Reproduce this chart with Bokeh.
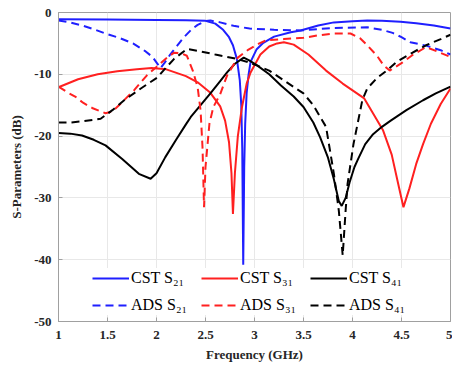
from bokeh.plotting import figure
from bokeh.models import Legend, LegendItem, FixedTicker, Range1d
from bokeh.embed import file_html
from bokeh.resources import INLINE

# ---------------- data ----------------
cst_s21_f = [1.0, 1.5, 2.0, 2.3, 2.5, 2.6, 2.68, 2.74, 2.78, 2.82, 2.85, 2.865, 2.875, 2.885,
             2.895, 2.905, 2.92, 2.94, 2.96, 3.02, 3.09, 3.2, 3.37, 3.47, 3.65, 3.81, 4.0,
             4.15, 4.3, 4.49, 4.65, 4.83, 5.0]
cst_s21_db = [-1.1, -1.15, -1.2, -1.25, -1.35, -1.8, -2.8, -4.0, -5.3, -7.5, -11.0, -15.0, -22.0, -40.8,
              -25.0, -18.0, -13.0, -10.0, -8.0, -6.0, -4.9, -3.9, -3.2, -2.9, -2.1, -1.6, -1.4,
              -1.3, -1.35, -1.5, -1.75, -2.1, -2.6]

cst_s31_f = [1.0, 1.2, 1.4, 1.6, 1.8, 1.95, 2.1, 2.3, 2.42, 2.55, 2.65, 2.7, 2.74, 2.765, 2.78,
             2.8, 2.83, 2.87, 2.92, 2.96, 3.06, 3.15, 3.23, 3.3, 3.4, 3.55, 3.73, 3.9, 4.12,
             4.31, 4.4, 4.47, 4.52, 4.58, 4.65, 4.72, 4.8, 4.9, 5.0]
cst_s31_db = [-12.1, -10.8, -10.0, -9.5, -9.2, -9.0, -9.2, -10.3, -11.3, -13.0, -15.2, -17.5, -21.0, -26.0, -32.6,
              -26.0, -20.0, -15.5, -11.5, -9.7, -6.8, -5.5, -5.0, -4.8, -5.2, -6.8, -9.4, -11.5, -13.9,
              -19.0, -23.0, -28.0, -31.5, -28.5, -24.5, -21.3, -18.0, -14.8, -12.3]

cst_s41_f = [1.0, 1.12, 1.24, 1.36, 1.48, 1.65, 1.82, 1.94, 2.0, 2.09, 2.2, 2.3, 2.35, 2.45, 2.55,
             2.65, 2.72, 2.8, 2.89, 2.95, 3.03, 3.15, 3.27, 3.4, 3.5, 3.6, 3.67, 3.75, 3.81,
             3.86, 3.89, 3.93, 3.97, 4.02, 4.06, 4.13, 4.21, 4.3, 4.39, 4.55, 4.72, 4.85, 5.0]
cst_s41_db = [-19.5, -19.6, -19.9, -20.6, -21.5, -23.7, -26.1, -26.9, -26.0, -23.4, -20.6, -18.1, -16.9, -15.0, -13.1,
              -11.1, -9.7, -8.3, -7.3, -7.8, -8.6, -10.0, -11.8, -13.6, -15.3, -17.8, -20.2, -23.5, -27.0,
              -30.5, -31.3, -30.0, -27.5, -25.0, -23.6, -21.3, -19.7, -18.5, -17.5, -15.8, -14.2, -13.1, -12.0]

ads_s21_f = [1.0, 1.12, 1.24, 1.36, 1.48, 1.62, 1.76, 1.88, 1.96, 2.01, 2.04, 2.08, 2.14, 2.2,
             2.28, 2.36, 2.42, 2.5, 2.55, 2.65, 2.8, 2.95, 3.2, 3.47, 3.81, 4.15, 4.3, 4.41,
             4.5, 4.59, 4.76, 4.9, 5.0]
ads_s21_db = [-1.3, -1.6, -2.1, -2.7, -3.4, -4.1, -5.0, -6.2, -7.2, -8.3, -9.0, -8.2, -6.8, -5.6,
              -4.0, -2.7, -2.0, -1.4, -1.3, -1.6, -2.2, -2.6, -2.8, -2.9, -2.5, -2.4, -2.8, -3.3,
              -4.0, -4.8, -5.4, -6.1, -6.8]

ads_s31_f = [1.0, 1.1, 1.17, 1.25, 1.35, 1.48, 1.55, 1.65, 1.77, 1.9, 2.0, 2.1, 2.18, 2.25, 2.31,
             2.37, 2.42, 2.45, 2.47, 2.485, 2.5, 2.54, 2.58, 2.65, 2.72, 2.83, 2.93, 3.05, 3.12,
             3.3, 3.5, 3.65, 3.81, 3.98, 4.08, 4.15, 4.25, 4.32, 4.38, 4.5, 4.62, 4.75, 4.88, 5.0]
ads_s31_db = [-12.0, -13.0, -13.6, -14.6, -15.5, -16.3, -16.0, -14.5, -12.6, -10.2, -8.8, -7.4, -6.5, -6.6, -7.0,
              -9.4, -12.1, -15.9, -22.0, -31.5, -25.0, -18.0, -15.3, -13.2, -10.2, -7.3, -6.1, -5.0, -4.5,
              -4.3, -4.1, -3.7, -3.4, -3.4, -4.2, -5.3, -7.0, -8.6, -9.4, -8.2, -6.8, -5.6, -6.4, -7.2]

ads_s41_f = [1.0, 1.12, 1.25, 1.43, 1.55, 1.67, 1.84, 2.01, 2.07, 2.18, 2.31, 2.45, 2.6, 2.79, 2.93,
             3.03, 3.15, 3.3, 3.5, 3.6, 3.73, 3.81, 3.86, 3.9, 3.93, 3.95, 4.01, 4.1, 4.15,
             4.25, 4.35, 4.45, 4.6, 4.75, 4.9, 5.0]
ads_s41_db = [-17.8, -17.8, -17.6, -17.2, -15.8, -14.2, -12.3, -10.5, -9.4, -7.5, -5.9, -6.3, -6.8, -7.4, -8.0,
              -8.6, -9.4, -11.0, -13.1, -15.0, -18.5, -26.1, -32.0, -39.3, -32.0, -27.7, -21.3, -14.2, -12.3,
              -10.6, -9.4, -8.0, -6.6, -5.3, -4.3, -3.6]

x_ticks = [1, 1.5, 2, 2.5, 3, 3.5, 4, 4.5, 5]
x_tick_labels = ["1", "1.5", "2", "2.5", "3", "3.5", "4", "4.5", "5"]
y_ticks = [0, -10, -20, -30, -40, -50]
y_tick_labels = ["0", "-10", "-20", "-30", "-40", "-50"]

legend_labels = ["CST S\u2082\u2081", "CST S\u2083\u2081", "CST S\u2084\u2081",
                 "ADS S\u2082\u2081", "ADS S\u2083\u2081", "ADS S\u2084\u2081"]

# ---------------- figure ----------------
FONT = "Liberation Serif"
p = figure(width=452, height=370, output_backend="svg", toolbar_location=None,
           x_range=Range1d(1, 5), y_range=Range1d(-50, 0),
           min_border_left=58, min_border_right=2, min_border_top=12, min_border_bottom=49)
p.background_fill_color = "white"
p.border_fill_color = "white"
p.outline_line_color = "#a0a0a0"
p.outline_line_width = 1

for ax in (p.xaxis[0], p.yaxis[0]):
    ax.axis_line_color = "#a0a0a0"
    ax.major_tick_line_color = "#a0a0a0"
    ax.minor_tick_line_color = None
    ax.major_tick_in = 4
    ax.major_tick_out = 0
    ax.major_label_text_font = FONT
    ax.major_label_text_font_style = "bold"
    ax.major_label_text_font_size = "13px"
    ax.major_label_text_color = "#262626"
    ax.axis_label_text_font = FONT
    ax.axis_label_text_font_style = "bold"
    ax.axis_label_text_font_size = "13px"
    ax.axis_label_text_color = "#262626"

p.xaxis.ticker = FixedTicker(ticks=x_ticks)
p.xaxis.major_label_overrides = {t: l for t, l in zip(x_ticks, x_tick_labels)}
p.yaxis.ticker = FixedTicker(ticks=y_ticks)
p.yaxis.major_label_overrides = {t: l for t, l in zip(y_ticks, y_tick_labels)}
p.xaxis.axis_label = "Frequency (GHz)"
p.yaxis.axis_label = "S-Parameters (dB)"
p.xaxis.major_label_standoff = 9
p.yaxis.major_label_standoff = 7
p.xaxis.axis_label_standoff = 5
p.yaxis.axis_label_standoff = 7

p.xgrid.grid_line_color = "#e8e8e8"
p.ygrid.grid_line_color = "#e8e8e8"

BLUE = "#1f1fff"
RED = "#ff2020"
BLACK = "#000000"
DASH = "8 5"
LW = 2

r1 = p.line(cst_s21_f, cst_s21_db, line_color=BLUE, line_width=LW)
r2 = p.line(cst_s31_f, cst_s31_db, line_color=RED, line_width=LW)
r3 = p.line(cst_s41_f, cst_s41_db, line_color=BLACK, line_width=LW)
r4 = p.line(ads_s21_f, ads_s21_db, line_color=BLUE, line_width=LW, line_dash=DASH)
r5 = p.line(ads_s31_f, ads_s31_db, line_color=RED, line_width=LW, line_dash=DASH)
r6 = p.line(ads_s41_f, ads_s41_db, line_color=BLACK, line_width=LW, line_dash=DASH)

renderers = [r1, r2, r3, r4, r5, r6]
legend = Legend(items=[LegendItem(label=l, renderers=[r]) for l, r in zip(legend_labels, renderers)],
                orientation="horizontal", ncols=3,
                location=(34, 6),
                glyph_width=37, glyph_height=20, label_standoff=2, spacing=7,
                label_width=63,
                label_text_font=FONT, label_text_font_size="16px", label_text_color="#000000",
                label_height=20, padding=3, margin=0,
                border_line_color=None, background_fill_color="white", background_fill_alpha=1.0)
p.add_layout(legend, "center")

open("out.html", "w").write(file_html(p, INLINE))
